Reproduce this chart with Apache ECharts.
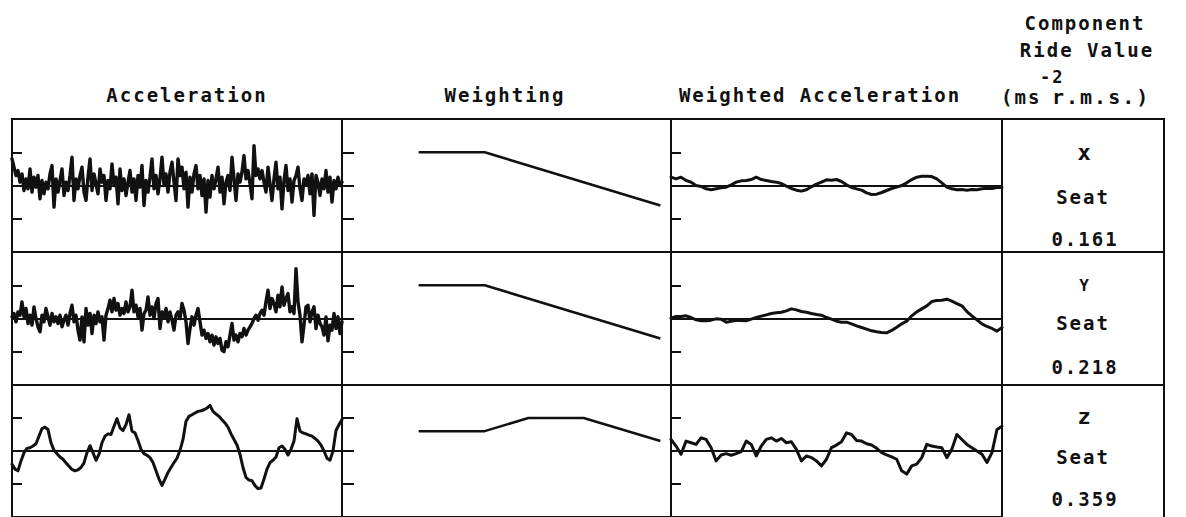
<!DOCTYPE html>
<html>
<head>
<meta charset="utf-8">
<script src="https://cdn.jsdelivr.net/npm/echarts@6/dist/echarts.min.js"></script>
<style>
  html, body { margin: 0; padding: 0; background: #fff; }
  #chart { width: 1186px; height: 517px; }
  #chart text { letter-spacing: 2px; }
</style>
</head>
<body>
<div id="chart"></div>
<script>
// Seat acceleration records (m/s², one tick = 1), sampled at equal time steps
const accelX = [
  0.8, 0.55, 0.3, 0.45, 0.1, 0.35, -0.15, 0.2, -0.1, 0.5,
  -0.2, 0.25, -0.05, 0.3, -0.4, 0.15, -0.25, 0.1, -0.1, 0.35,
  0.6, -0.65, 0.2, -0.2, 0.15, 0.5, -0.3, 0.1, -0.15, 0.3,
  0.85, -0.45, 0.2, -0.1, 0.3, 0.55, -0.2, -0.45, 0.25, 0.8,
  -0.15, 0.35, 0.05, -0.25, 0.5, 0.1, 0.3, -0.45, 0.15, -0.1,
  0.65, 0.0, 0.25, -0.55, 0.5, -0.15, 0.2, -0.3, 0.1, 0.45,
  -0.2, 0.2, -0.45, 0.3, -0.05, 0.6, -0.6, 0.15, -0.2, 0.25,
  0.8, -0.1, 0.3, -0.25, 0.2, 0.85, 0.0, 0.35, -0.2, 0.4,
  0.7, 0.1, -0.45, 0.8, 0.3, 0.55, -0.1, 0.4, -0.65, 0.25,
  -0.2, 0.35, 0.6, -0.1, 0.3, -0.3, 0.2, -0.8, 0.15, -0.35,
  0.3, -0.1, 0.2, 0.55, -0.2, 0.25, -0.55, 0.1, 0.3, -0.15,
  0.85, 0.2, -0.45, 0.35, 0.1, 0.4, 0.9, 0.2, 0.45, 0.05,
  -0.4, 1.2, 0.3, 0.5, 0.2, 0.45, 0.1, -0.2, 0.55, 0.05,
  -0.45, 0.2, 0.7, -0.1, 0.25, -0.7, 0.15, 0.6, -0.15, 0.2,
  -0.5, 0.15, 0.3, 0.55, -0.1, -0.45, 0.2, 0.05, 0.3, -0.25,
  0.35, -0.9, 0.3, 0.1, -0.3, 0.2, -0.1, 0.45, -0.2, 0.25,
  -0.5, 0.15, -0.1, 0.25, 0.0, 0.1
];
const accelY = [
  0.05, 0.15, -0.1, 0.2, 0.1, 0.5, 0.05, 0.3, -0.15, 0.1,
  -0.2, 0.35, 0.0, -0.25, -0.4, 0.1, -0.1, 0.3, 0.05, -0.2,
  0.15, -0.1, 0.05, -0.15, 0.1, -0.25, -0.05, 0.1, -0.2, 0.15,
  0.4, -0.1, 0.1, -0.35, -0.65, 0.05, -0.7, 0.3, -0.2, 0.15,
  -0.45, 0.1, -0.15, 0.2, -0.1, 0.05, -0.65, 0.1, 0.3, 0.55,
  0.2, 0.6, 0.25, 0.45, 0.1, 0.3, 0.15, 0.5, 0.2, 0.35,
  0.85, 0.2, 0.4, 0.05, 0.3, -0.35, 0.15, 0.25, 0.65, 0.1,
  0.35, 0.0, 0.45, 0.6, -0.3, 0.2, 0.05, 0.3, -0.1, 0.2,
  -0.05, -0.35, 0.1, 0.2, 0.0, 0.45, 0.25, -0.1, -0.75, -0.3,
  0.05, -0.2, 0.1, 0.3, -0.1, -0.5, -0.35, -0.6, -0.45, -0.7,
  -0.5, -0.8, -0.55, -0.75, -0.6, -0.95, -1.0, -0.7, -0.85, -0.5,
  -0.15, -0.65, -0.5, -0.7, -0.45, -0.55, -0.3, -0.5, -0.35, -0.25,
  -0.15, 0.0, 0.1, -0.05, 0.15, 0.25, 0.1, 0.5, 0.85, 0.3,
  0.6, 0.45, 0.2, 0.7, 0.35, 0.95, 0.4, 0.6, 0.75, 0.2,
  0.35, 0.15, 1.5, 0.5, 0.1, -0.7, -0.2, 0.35, 0.4, -0.1,
  0.2, 0.35, -0.3, 0.1, -0.15, -0.25, -0.5, 0.05, -0.67, -0.2,
  -0.35, 0.15, -0.3, 0.05, -0.45, -0.1
];
const accelZ = [
  -0.40, -0.55, -0.60, -0.30, -0.05, 0.08, 0.10, 0.15, 0.22, 0.45,
  0.68, 0.72, 0.65, 0.25, 0.02, -0.08, -0.18, -0.25, -0.36, -0.46,
  -0.56, -0.60, -0.57, -0.50, -0.36, -0.05, 0.16, -0.05, -0.28, -0.10,
  0.25, 0.45, 0.52, 0.50, 0.75, 0.98, 0.70, 0.62, 0.80, 1.10,
  0.60, 0.55, 0.32, 0.05, -0.08, -0.13, -0.20, -0.35, -0.60, -0.85,
  -1.04, -0.85, -0.65, -0.50, -0.35, -0.22, 0.02, 0.35, 0.90, 1.05,
  1.10, 1.15, 1.20, 1.22, 1.25, 1.30, 1.38, 1.20, 1.12, 1.05,
  0.95, 0.85, 0.72, 0.52, 0.35, 0.18, -0.10, -0.50, -0.80, -0.88,
  -0.90, -1.05, -1.14, -1.12, -0.85, -0.55, -0.35, -0.28, -0.18, 0.10,
  0.15, 0.05, -0.12, 0.05, 0.30, 0.98, 0.60, 0.55, 0.52, 0.48,
  0.45, 0.38, 0.30, 0.18, 0.00, -0.22, -0.28, 0.00, 0.62, 0.80,
  0.95
];

// Frequency-weighted acceleration records
const weightedX = [
  0.25, 0.20, 0.25, 0.15, 0.10, 0.00, -0.03, -0.10, -0.13, -0.10,
  -0.07, -0.05, 0.02, 0.10, 0.14, 0.15, 0.18, 0.25, 0.18, 0.15,
  0.12, 0.10, 0.06, -0.02, -0.09, -0.14, -0.17, -0.13, -0.04, 0.04,
  0.10, 0.17, 0.16, 0.18, 0.12, 0.02, -0.06, -0.10, -0.14, -0.22,
  -0.27, -0.26, -0.21, -0.15, -0.09, -0.05, 0.00, 0.08, 0.18, 0.25,
  0.28, 0.28, 0.27, 0.20, 0.08, -0.05, -0.10, -0.13, -0.12, -0.14,
  -0.12, -0.13, -0.10, -0.08, -0.09, -0.06, -0.06
];
const weightedY = [
  0.01, 0.06, 0.06, 0.08, 0.03, -0.04, -0.07, -0.07, -0.05, -0.01,
  -0.02, -0.11, -0.08, -0.05, -0.06, -0.07, -0.02, 0.03, 0.07, 0.11,
  0.15, 0.17, 0.19, 0.23, 0.29, 0.26, 0.21, 0.19, 0.15, 0.12,
  0.10, 0.03, -0.02, -0.08, -0.11, -0.11, -0.16, -0.22, -0.27, -0.32,
  -0.37, -0.40, -0.42, -0.43, -0.36, -0.26, -0.16, -0.08, 0.08, 0.20,
  0.29, 0.38, 0.51, 0.54, 0.55, 0.58, 0.52, 0.45, 0.38, 0.21,
  0.08, -0.04, -0.16, -0.24, -0.30, -0.38, -0.27
];
const weightedZ = [
  0.35, 0.15, -0.10, 0.30, 0.25, 0.20, 0.40, 0.35, 0.10, -0.30,
  -0.12, -0.08, -0.13, -0.08, -0.02, 0.30, 0.20, -0.15, 0.15, 0.35,
  0.40, 0.30, 0.38, 0.25, 0.28, 0.05, -0.30, -0.15, -0.20, -0.30,
  -0.45, -0.25, 0.10, 0.18, 0.28, 0.55, 0.50, 0.32, 0.30, 0.22,
  0.18, 0.08, -0.05, -0.12, -0.18, -0.25, -0.60, -0.70, -0.45, -0.40,
  -0.20, 0.20, 0.15, 0.12, 0.10, -0.20, 0.05, 0.50, 0.35, 0.20,
  0.10, 0.00, -0.10, -0.35, -0.05, 0.65, 0.75
];

// Frequency weightings (gain vs frequency in Hz)
const freqWd = [0.5, 2, 80];
const gainWd = [1, 1, 0.025];
const freqWb = [0.5, 2, 5, 16, 80];
const gainWb = [0.4, 0.4, 1, 1, 0.2];

// Text of the table
const columnTitles = ['Acceleration', 'Weighting', 'Weighted Acceleration'];
const axisNames = ['x', 'Y', 'z'];
const positions = ['Seat', 'Seat', 'Seat'];
const rideValues = ['0.161', '0.218', '0.359'];

const rows = [
  { acc: accelX, weighted: weightedX, freq: freqWd, gain: gainWd, accWidth: 3.4 },
  { acc: accelY, weighted: weightedY, freq: freqWd, gain: gainWd, accWidth: 3.4 },
  { acc: accelZ, weighted: weightedZ, freq: freqWb, gain: gainWb, accWidth: 3 }
];

const INK = '#111';
const FONT = 'DejaVu Sans Mono';
const rowTop = [119, 252, 385];
const rowH = 133;
const cols = [
  { left: 12, width: 330 },
  { left: 342, width: 329 },
  { left: 671, width: 331 }
];

const grid = [], xAxis = [], yAxis = [], series = [];
const tickStyle = { show: true, inside: true, length: 10, lineStyle: { color: INK, width: 2 } };

rows.forEach((row, r) => {
  cols.forEach((col, c) => {
    const gi = grid.length;
    grid.push({
      left: col.left, top: rowTop[r], width: col.width, height: rowH,
      show: true, borderColor: INK, borderWidth: 2, backgroundColor: 'transparent'
    });
    if (c === 1) {
      xAxis.push({
        gridIndex: gi, type: 'log', logBase: 10, min: 0.1, max: 100,
        axisLine: { show: false }, axisTick: { show: false },
        axisLabel: { show: false }, splitLine: { show: false }
      });
      yAxis.push({
        gridIndex: gi, type: 'log', logBase: 10, min: 0.001, max: 10,
        axisLine: { show: false }, axisTick: Object.assign({}, tickStyle, { length: 12 }),
        axisLabel: { show: false }, splitLine: { show: false }
      });
      series.push({
        type: 'line', xAxisIndex: gi, yAxisIndex: gi,
        data: row.freq.map((f, i) => [f, row.gain[i]]),
        symbol: 'none', lineStyle: { color: INK, width: 2.5 }, silent: true
      });
    } else {
      const values = c === 0 ? row.acc : row.weighted;
      xAxis.push({
        gridIndex: gi, type: 'value', min: 0, max: values.length - 1,
        axisLine: { show: true, onZero: true, lineStyle: { color: INK, width: 2 } },
        axisTick: { show: false }, axisLabel: { show: false }, splitLine: { show: false }
      });
      yAxis.push({
        gridIndex: gi, type: 'value', min: -2, max: 2, interval: 1,
        axisLine: { show: false }, axisTick: tickStyle,
        axisLabel: { show: false }, splitLine: { show: false }
      });
      series.push({
        type: 'line', xAxisIndex: gi, yAxisIndex: gi,
        data: values.map((v, i) => [i, v]),
        symbol: 'none', silent: true,
        lineStyle: { color: INK, width: c === 0 ? row.accWidth : 3, join: 'round', cap: 'round' }
      });
    }
  });
});

function label(text, x, y, align, size) {
  return {
    type: 'text', x: x, y: y, silent: true,
    style: {
      text: text, fill: INK,
      fontFamily: FONT, fontWeight: 'bold', fontSize: size || 19,
      textAlign: align || 'center', textVerticalAlign: 'middle'
    }
  };
}

const graphic = [
  label(columnTitles[0], 187, 95),
  label(columnTitles[1], 505, 95),
  label(columnTitles[2], 820, 95),
  label('Component', 1085, 23),
  label('Ride Value', 1087, 50),
  label('(ms', 1001, 97, 'left'),
  label('-2', 1040, 77, 'left', 17),
  label('r.m.s.)', 1052, 97, 'left', 20)
];
const cellLines = [[152, 197, 239], [285, 323, 367], [416, 457, 499]];
rows.forEach((row, r) => {
  graphic.push({
    type: 'rect', silent: true,
    shape: { x: 1002, y: rowTop[r], width: 162, height: rowH },
    style: { fill: 'none', stroke: INK, lineWidth: 2 }
  });
  graphic.push(label(axisNames[r], 1085, cellLines[r][0], 'center', r === 1 ? 16 : 22));
  graphic.push(label(positions[r], 1083, cellLines[r][1]));
  graphic.push(label(rideValues[r], 1085, cellLines[r][2]));
});

const chart = echarts.init(document.getElementById('chart'), null, { renderer: 'svg' });
chart.setOption({
  animation: false,
  backgroundColor: '#fff',
  grid: grid,
  xAxis: xAxis,
  yAxis: yAxis,
  series: series,
  graphic: graphic
});
</script>
</body>
</html>
